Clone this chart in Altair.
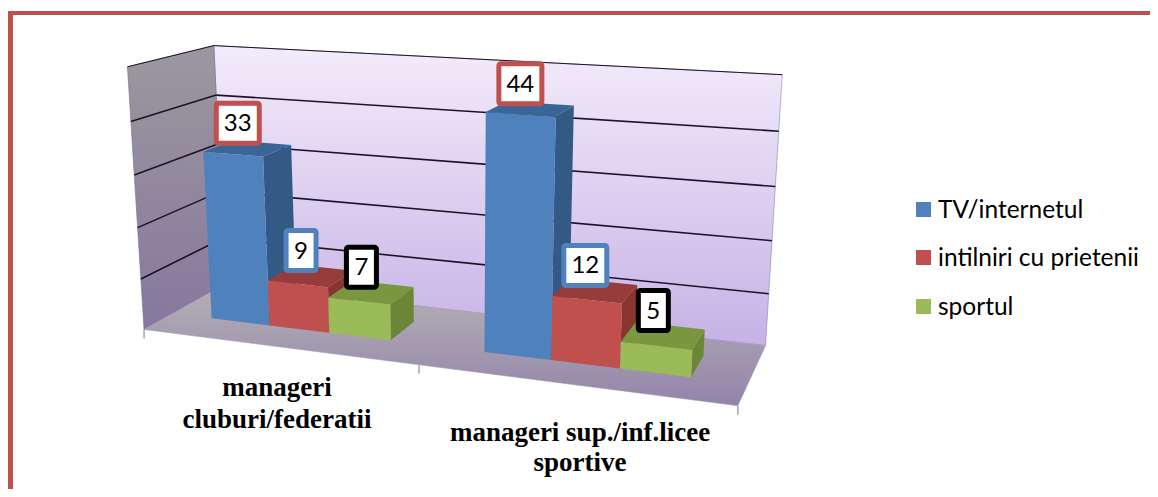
import altair as alt
import numpy as np
import pandas as pd

# ---- chart values ----
categories = [["manageri", "cluburi/federatii"], ["manageri sup./inf.licee", "sportive"]]
series = ["TV/internetul", "intilniri cu prietenii", "sportul"]
tv_internet = [33, 44]
intilniri = [9, 12]
sportul = [7, 5]
axis_ticks = [0, 10, 20, 30, 40, 50]

# ---- styles ----
front_col = ["#4f81bd", "#c0504d", "#9bbb59"]
top_col = ["#3a6597", "#963c3a", "#7a963f"]
side_col = ["#335985", "#8a3432", "#6c8638"]
label_stroke = ["#c0504d", "#4f81bd", "#000000"]
BORDER = "#c0504d"

# ---- camera: calibrates a projective view of the (category, value, depth) box ----
calib_model = [
    (0, 0, 0), (1, 0, 0), (2, 0, 0), (0, 0, 1), (2, 0, 1),
    (0, 50, 0), (0, 50, 1), (2, 50, 1),
    (0, 10, 0), (0, 20, 0), (0, 30, 0), (0, 40, 0),
    (2, 10, 1), (2, 20, 1), (2, 30, 1), (2, 40, 1),
    (0, 40, 1), (0, 30, 1),
]
calib_view = [
    (144, 330), (418, 367), (738, 405), (225, 284), (766, 344),
    (127, 67), (214, 45), (783, 75),
    (141, 278), (138, 227), (135, 175), (131, 121),
    (769, 294), (772, 241), (775, 187), (778, 131),
    (216, 95), (218, 145),
]


def fit_camera(model, view):
    rows, rhs = [], []
    for (X, Y, Z), (u, v) in zip(model, view):
        rows.append([X, Y, Z, 1, 0, 0, 0, 0, -u * X, -u * Y, -u * Z])
        rhs.append(u)
        rows.append([0, 0, 0, 0, X, Y, Z, 1, -v * X, -v * Y, -v * Z])
        rhs.append(v)
    sol = np.linalg.lstsq(np.array(rows, float), np.array(rhs, float), rcond=None)[0]
    return np.append(sol, 1).reshape(3, 4)


CAM = fit_camera(calib_model, calib_view)


def P(X, Y, Z):
    q = CAM @ np.array([X, Y, Z, 1.0])
    return float(q[0] / q[2]), float(q[1] / q[2])


sx = alt.Scale(domain=[8, 1150], range=[0, 1142], nice=False, zero=False)
sy = alt.Scale(domain=[489, 8], nice=False, zero=False)
X_ENC = alt.X("x:Q", scale=sx, axis=None)
Y_ENC = alt.Y("y:Q", scale=sy, axis=None)


def grad(c0, c1):
    return alt.Gradient(
        gradient="linear", x1=0, x2=0, y1=0, y2=1,
        stops=[alt.GradientStop(offset=0, color=c0), alt.GradientStop(offset=1, color=c1)],
    )


def poly(pts, fill, stroke=None, sw=0.6):
    pts = list(pts) + [pts[0]]
    df = pd.DataFrame({"x": [p[0] for p in pts], "y": [p[1] for p in pts], "i": range(len(pts))})
    kw = {"stroke": stroke, "strokeWidth": sw} if stroke else {"strokeOpacity": 0, "strokeWidth": 0}
    return alt.Chart(df).mark_line(fill=fill, **kw).encode(X_ENC, Y_ENC, order="i:Q")


def seg(a, b, color, sw):
    df = pd.DataFrame({"x": [a[0], b[0]], "y": [a[1], b[1]], "i": [0, 1]})
    return alt.Chart(df).mark_line(color=color, strokeWidth=sw).encode(X_ENC, Y_ENC, order="i:Q")


layers = []

# walls and floor
layers.append(poly([P(0, 50, 1), P(2, 50, 1), P(2, 0, 1), P(0, 0, 1)],
                   grad("#f3ecfb", "#c6b2e6"), "#8f80b4"))
layers.append(poly([P(0, 50, 0), P(0, 50, 1), P(0, 0, 1), P(0, 0, 0)],
                   grad("#9c989e", "#86789e"), "#75689c"))
layers.append(poly([P(0, 0, 1), P(2, 0, 1), P(2, 0, 0), P(0, 0, 0)],
                   grad("#b4b1b4", "#9384ab"), "#a79bc0"))

for v in axis_ticks[1:]:
    layers.append(seg(P(0, v, 1), P(2, v, 1), "#1c1426", 1.6 if v < 50 else 1.0))
    layers.append(seg(P(0, v, 0), P(0, v, 1), "#1c1426", 1.6 if v < 50 else 1.0))

# category ticks below the floor
for k in [0, 1, 2]:
    a = P(k, 0, 0)
    layers.append(seg(a, (a[0], a[1] + 9), "#a6a6a6", 1.5))

# bars
W, MARGIN, Z0, Z1 = 0.224, 0.155, 0.33, 0.70
values = [tv_internet, intilniri, sportul]
labels = []
for g in range(2):
    for s in range(3):
        val = values[s][g]
        x0 = g + MARGIN + s * W
        x1 = x0 + W
        layers.append(poly([P(x1, 0, Z0), P(x1, val, Z0), P(x1, val, Z1), P(x1, 0, Z1)], side_col[s]))
        layers.append(poly([P(x0, val, Z0), P(x1, val, Z0), P(x1, val, Z1), P(x0, val, Z1)], top_col[s]))
        layers.append(poly([P(x0, 0, Z0), P(x1, 0, Z0), P(x1, val, Z0), P(x0, val, Z0)], front_col[s]))
        cx, cy = P((x0 + x1) / 2, val, (Z0 + Z1) / 2)
        labels.append({"x": cx - 10, "y": cy - 25, "txt": str(val), "stroke": label_stroke[s]})

# value labels: boxed
for lb in labels:
    hw = 21.5 if len(lb["txt"]) > 1 else 15
    box = pd.DataFrame([{"x": lb["x"] - hw, "x2": lb["x"] + hw, "y": lb["y"] - 20, "y2": lb["y"] + 20}])
    layers.append(
        alt.Chart(box).mark_rect(fill="white", stroke=lb["stroke"], strokeWidth=5, cornerRadius=2).encode(
            x=alt.X("x:Q", scale=sx, axis=None), x2="x2:Q",
            y=alt.Y("y:Q", scale=sy, axis=None), y2="y2:Q",
        )
    )
    layers.append(
        alt.Chart(pd.DataFrame([lb])).mark_text(
            font="Lato", fontSize=24, color="#000000", align="center", baseline="middle", dy=1
        ).encode(X_ENC, Y_ENC, text="txt:N")
    )

# category labels
for g, lines in enumerate(categories):
    cxs = [277, 580]
    ys = [[388, 420], [433, 463]]
    df = pd.DataFrame({"x": [cxs[g]] * 2, "y": ys[g], "txt": lines})
    layers.append(
        alt.Chart(df).mark_text(
            font="Liberation Serif", fontWeight="bold", fontSize=27, color="#000000",
            align="center", baseline="middle",
        ).encode(X_ENC, Y_ENC, text="txt:N")
    )

# legend
legend_y = [209.5, 257.5, 306.5]
leg = pd.DataFrame({"x": [923.5] * 3, "y": legend_y, "txt": series, "c": front_col})
layers.append(
    alt.Chart(leg).mark_square(size=225, opacity=1, filled=True).encode(
        X_ENC, Y_ENC, color=alt.Color("c:N", scale=None)
    )
)
leg_t = leg.assign(x=938, y=[v + 1 for v in legend_y])
layers.append(
    alt.Chart(leg_t).mark_text(font="Lato", fontSize=24.5, color="#000000", align="left", baseline="middle").encode(
        X_ENC, Y_ENC, text="txt:N"
    )
)

# outer border
layers.append(seg((10.5, 11), (10.5, 489), BORDER, 5))
layers.append(seg((8, 13), (1150, 13), BORDER, 4))

chart = (
    alt.layer(*layers)
    .properties(width=1142, height=481, padding=0, autosize=alt.AutoSizeParams(type="none"))
    .configure_view(stroke=None)
)
chart.save("out.html", embed_options={"renderer": "svg", "actions": False})
